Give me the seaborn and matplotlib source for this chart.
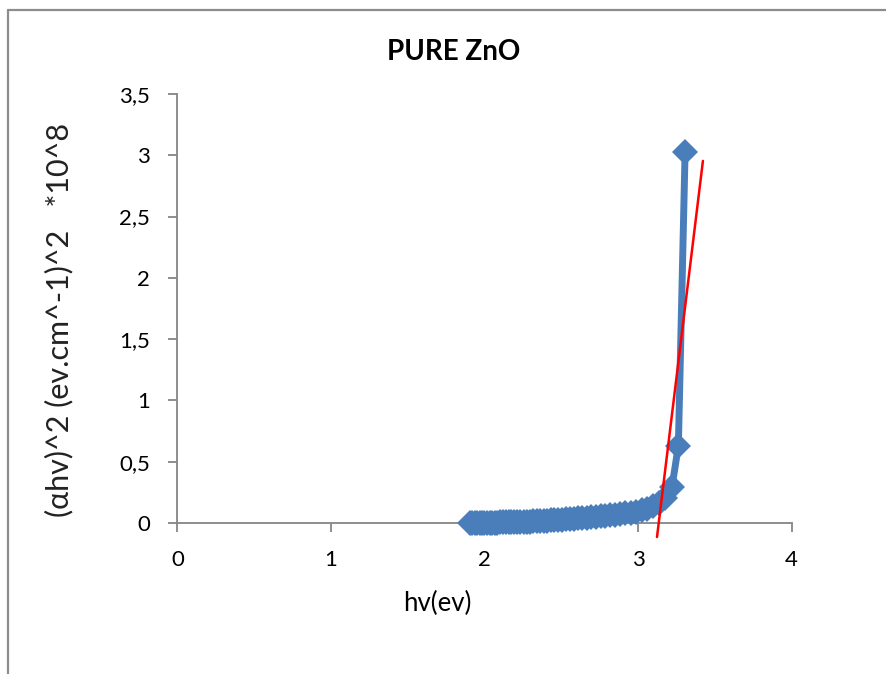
import matplotlib
matplotlib.use("Agg")
import matplotlib.pyplot as plt
from matplotlib.lines import Line2D
import seaborn as sns
import pandas as pd

# Photon energy hv (eV) and (alpha*hv)^2 (x10^8 eV.cm^-1)^2
hv_ev = [1.908, 1.922, 1.938, 1.953, 1.968, 1.984, 2.000, 2.016, 2.033, 2.050,
         2.067, 2.084, 2.102, 2.120, 2.138, 2.157, 2.175, 2.195, 2.214, 2.234,
         2.255, 2.275, 2.296, 2.318, 2.340, 2.362, 2.385, 2.408, 2.431, 2.455,
         2.480, 2.505, 2.531, 2.557, 2.583, 2.611, 2.638, 2.667, 2.696, 2.725,
         2.756, 2.787, 2.818, 2.851, 2.884, 2.918, 2.952, 2.988, 3.024, 3.062,
         3.100, 3.139, 3.179, 3.221, 3.263, 3.307]
ahv2 = [0.000, 0.001, 0.001, 0.001, 0.002, 0.002, 0.002, 0.003, 0.003, 0.003,
        0.004, 0.004, 0.005, 0.005, 0.006, 0.006, 0.007, 0.008, 0.008, 0.009,
        0.010, 0.011, 0.012, 0.013, 0.014, 0.016, 0.017, 0.019, 0.021, 0.023,
        0.025, 0.027, 0.029, 0.031, 0.034, 0.037, 0.040, 0.043, 0.046, 0.050,
        0.054, 0.058, 0.062, 0.067, 0.072, 0.078, 0.085, 0.093, 0.103, 0.116,
        0.135, 0.160, 0.200, 0.290, 0.630, 3.030]

# Tangent (band-gap extrapolation) line end points
fit_x = [3.124, 3.423]
fit_y = [-0.114, 2.954]

x_ticks = [0, 1, 2, 3, 4]
y_ticks = [0, 0.5, 1, 1.5, 2, 2.5, 3, 3.5]
y_tick_labels = ["0", "0,5", "1", "1,5", "2", "2,5", "3", "3,5"]

title = "PURE ZnO"
x_label = "hv(ev)"
y_label = "(\u03b1hv)^2 (ev.cm^-1)^2   *10^8"

sns.set_theme(style="white")
plt.rcParams["font.family"] = ["Lato", "DejaVu Sans"]

W, H = 886, 674
fig = plt.figure(figsize=(W / 100, H / 100), dpi=100)
ax = fig.add_axes([177.4 / W, (H - 523) / H, (791.5 - 177.4) / W, (523 - 94) / H])

df = pd.DataFrame({"hv": hv_ev, "val": ahv2})
fit = pd.DataFrame({"x": fit_x, "y": fit_y})

blue = "#4a7ebb"
sns.lineplot(data=df, x="hv", y="val", ax=ax, color=blue, linewidth=5,
             marker="D", markersize=13.5, markeredgecolor=blue, markeredgewidth=0,
             sort=False, zorder=3, clip_on=False)
sns.lineplot(data=fit, x="x", y="y", ax=ax, color="#ff0000", linewidth=1.8,
             sort=False, zorder=4, clip_on=False)

ax.set_xlim(0, 4)
ax.set_ylim(0, 3.5)
ax.set_xticks(x_ticks)
ax.set_xticklabels([str(t) for t in x_ticks])
ax.set_yticks(y_ticks)
ax.set_yticklabels(y_tick_labels)
ax.set_xlabel("")
ax.set_ylabel("")

spine_col = "#868686"
for s in ["top", "right"]:
    ax.spines[s].set_visible(False)
for s in ["left", "bottom"]:
    ax.spines[s].set_color(spine_col)
    ax.spines[s].set_linewidth(1.3)
ax.tick_params(axis="both", which="major", direction="out", length=6.5,
               width=1.3, color=spine_col, labelsize=16, labelcolor="black")
ax.tick_params(axis="x", pad=13, bottom=True)
ax.tick_params(axis="y", pad=13, left=True)
ax.grid(False)
ax.set_facecolor("white")

fig.text(454 / W, 1 - 52 / H, title, ha="center", va="center",
         fontsize=20, fontweight="bold", color="black")
fig.text(437 / W, 1 - 603 / H, x_label, ha="center", va="center",
         fontsize=18.5, color="black")
fig.text(59 / W, 1 - 320 / H, y_label, ha="center", va="center",
         rotation=90, fontsize=22, color="#222222")

# Outer chart border (cropped: only top and left visible)
border_col = "#8c8c8c"
fig.add_artist(Line2D([8 / W, 1], [1 - 10 / H, 1 - 10 / H], color=border_col,
                      linewidth=1.6, transform=fig.transFigure))
fig.add_artist(Line2D([8 / W, 8 / W], [0, 1 - 10 / H], color=border_col,
                      linewidth=1.6, transform=fig.transFigure))

fig.savefig("out.png", dpi=100, facecolor="white")
